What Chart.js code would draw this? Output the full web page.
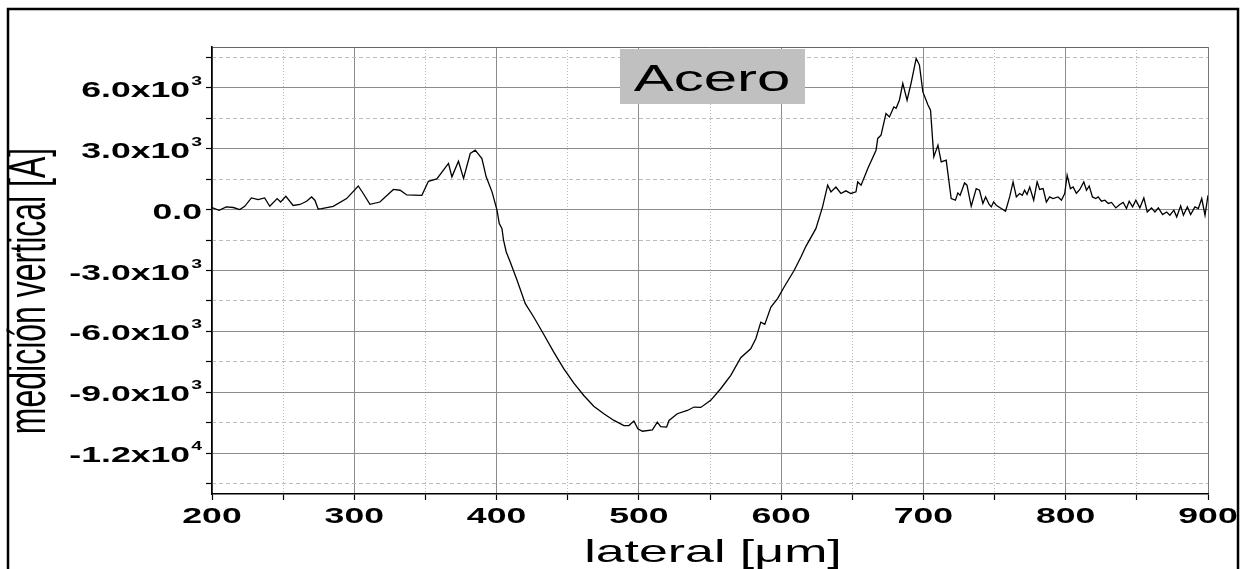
<!DOCTYPE html>
<html>
<head>
<meta charset="utf-8">
<title>Acero</title>
<script src="https://cdn.jsdelivr.net/npm/chart.js@4/dist/chart.umd.min.js"></script>
<style>
  html, body { margin: 0; padding: 0; background: #fff; }
  canvas { display: block; }
</style>
</head>
<body>
<canvas id="profileChart" width="1246" height="569"></canvas>
<script>
"use strict";

// profile: lateral position [um] and vertical value [A]
var lateral = [
  200, 205, 210, 215, 219.5, 223, 227.7, 232.4, 237, 240.6, 245.8, 248.2, 251.9, 257, 261.8, 266.5,
  270, 272.3, 274.6, 277, 285.2, 294.6, 302.8, 306.3, 311, 318, 327.5, 332.2, 336.9, 347.5, 352.1,
  358, 366.2, 368.6, 373.2, 376.8, 381.5, 385, 389.7, 392.7, 396.8,
  400.3, 401.9, 403.8, 404.9, 406.8, 409.6, 414.4, 420.2, 426.1, 433.1, 440.2, 447.2, 454.3,
  461.3, 468.3, 475.4, 482.5, 489.5, 493, 496.5, 499.3, 502.5, 509.5, 513, 515.3, 519.5, 521.2,
  527, 534.1, 538.8, 543.5, 550.5, 557.5, 564.6, 571.6, 578.6, 582.2, 585.7, 588.5, 592.8, 597.5,
  602.1, 609.2, 613.9, 617.4, 624.4, 629.1, 632.7, 635, 638.5, 642, 645.5, 649, 652.6, 653.8,
  656.2, 660.9, 666.7, 667.9, 670.2, 673.7, 676.1, 679.2, 680.8, 683.1, 685.5, 688.5, 691.3,
  694.9, 697.2, 699.6, 703.2, 705, 707.3, 710.2, 712.5, 716,
  719.5, 722.5, 724.2, 725.8, 728.9, 730.6, 733.6, 737.1, 739.4, 741.8, 743.7, 746.1, 747.7,
  749.3, 751.2, 754.7, 757.7, 760.6, 763, 765.3, 767.6, 769.5, 771.1, 772.8, 774.7, 777.5, 779.9,
  781.7, 784.1, 786.4, 788.7, 791.1, 794.6, 797, 799.3, 801, 803.3, 805.2, 807.5, 809.9, 812.7,
  814.6, 816.5, 818.8, 821.1, 822.8, 825.1, 827.5, 829.9, 832.2, 835.2, 838, 840.4, 842.7, 844.6,
  847, 849.3, 852.1, 854.9, 857.3, 860.3, 862.7, 865.1, 868.1, 870.9, 873.2, 876, 878, 880.8,
  882.7, 885.5, 887.8, 890.8, 893.2, 895.6, 897.9, 900
];
var vertical = [
  100, -35, 130, 100, 0, 160, 570, 490, 570, 160, 540, 370, 650, 200, 250, 410,
  620, 460, 30, 50, 160, 540, 1160, 790, 260, 370, 990, 950, 720, 700, 1390,
  1510, 2270, 1610, 2380, 1530, 2760, 2920, 2510, 1610, 870,
  -30, -690, -940, -1510, -2090, -2580, -3480, -4630, -5290, -6140, -7020, -7830, -8540,
  -9150, -9680, -10050, -10380, -10630, -10630, -10410, -10790, -10910, -10840, -10460, -10680, -10710, -10380,
  -10050, -9890, -9720, -9740, -9390, -8820, -8160, -7290, -6850, -6360, -5540, -5650, -4800, -4380,
  -3810, -2990, -2340, -1810, -940, 130, 1200, 870, 1110, 790, 920, 790, 870, 1360,
  1200, 2020, 2920, 3500, 3660, 4730, 4560, 5050, 4980, 5380, 6210, 5380, 6210,
  7440, 7110, 5790, 5140, 4890, 2590, 3170, 2350, 2430,
  540, 460, 820, 700, 1310, 1200, 160, 1030, 950, 300, 620, 260, 130,
  370, 210, 50, -80, 620, 1360, 620, 790, 700, 950, 740, 1110, 460, 1360,
  990, 1030, 370, 620, 540, 620, 460, 790, 1690, 1030, 1110, 800, 990, 1360,
  950, 1160, 620, 540, 620, 410, 460, 300, 350, 80, 250, 350, 50, 410,
  130, 460, 80, 570, -120, 80, -120, 80, -250, -120, -280, -30, -360, 180,
  -280, 130, -250, 130, 50, 540, -280, 700
];

var xTickValues = [200, 300, 400, 500, 600, 700, 800, 900];
var xTickLabels = ['200', '300', '400', '500', '600', '700', '800', '900'];
var yTickValues = [6000, 3000, 0, -3000, -6000, -9000, -12000];
var yTickLabels = ['6.0x10³', '3.0x10³', '0.0', '-3.0x10³', '-6.0x10³', '-9.0x10³', '-1.2x10⁴'];
var sampleName = 'Acero';
var xTitle = 'lateral [μm]';
var yTitle = 'medición vertical [A]';

var STRETCH = 1.62;
var FONT = '"Liberation Sans", Arial, sans-serif';
var CLEAR = 'rgba(0,0,0,0)';
var SUPERSCRIPTS = {'³': '3', '⁴': '4'};

var isMajor = function (v, step) {
  return Math.abs(v % step) < 1;
};

// bounds plus every multiple of step in between
var gridTicks = function (scale, step) {
  var ticks = [{value: scale.min}];
  var v = Math.ceil(scale.min / step) * step;
  if (v === scale.min) v += step;
  for (; v < scale.max; v += step) {
    ticks.push({value: v});
  }
  ticks.push({value: scale.max});
  scale.ticks = ticks;
};

var drawStretched = function (ctx, text, x, y) {
  ctx.save();
  ctx.translate(x, y);
  ctx.scale(STRETCH, 1);
  ctx.fillText(text, 0, 0);
  ctx.restore();
};

// right aligned label at (x, y), exponent drawn small and raised
var drawTickLabel = function (ctx, label, x, y) {
  var last = label.charAt(label.length - 1);
  var base = label;
  ctx.textAlign = 'right';
  ctx.textBaseline = 'alphabetic';
  if (SUPERSCRIPTS[last]) {
    base = label.slice(0, -1);
    ctx.font = 'bold 12px ' + FONT;
    drawStretched(ctx, SUPERSCRIPTS[last], x, y - 4);
    x -= ctx.measureText(SUPERSCRIPTS[last]).width * STRETCH + 1;
  }
  ctx.font = 'bold 22px ' + FONT;
  drawStretched(ctx, base, x, y + 8);
};

var textPlugin = {
  id: 'stretchedText',
  afterDraw: function (chart) {
    var ctx = chart.ctx;
    var xs = chart.scales.x;
    var ys = chart.scales.y;

    ctx.save();
    ctx.fillStyle = '#000';

    // tick labels
    yTickValues.forEach(function (v, i) {
      drawTickLabel(ctx, yTickLabels[i], 202, ys.getPixelForValue(v) + 1);
    });
    ctx.font = 'bold 22px ' + FONT;
    ctx.textAlign = 'center';
    ctx.textBaseline = 'middle';
    xTickValues.forEach(function (v, i) {
      drawStretched(ctx, xTickLabels[i], xs.getPixelForValue(v), 517);
    });

    // axis titles
    ctx.font = '32px ' + FONT;
    ctx.textBaseline = 'alphabetic';
    drawStretched(ctx, xTitle, 713, 562);

    ctx.save();
    ctx.translate(45, 291);
    ctx.rotate(-Math.PI / 2);
    ctx.scale(1, STRETCH);
    ctx.fillText(yTitle, 0, 0);
    ctx.restore();

    // sample label
    ctx.fillStyle = '#c0c0c0';
    ctx.fillRect(620, 49, 185, 55);
    ctx.fillStyle = '#000';
    ctx.font = '37px ' + FONT;
    drawStretched(ctx, sampleName, 712, 91);

    // outer frame
    ctx.strokeStyle = '#000';
    ctx.lineWidth = 2.5;
    ctx.beginPath();
    ctx.moveTo(8, 575);
    ctx.lineTo(8, 9);
    ctx.lineTo(1238, 9);
    ctx.lineTo(1238, 575);
    ctx.stroke();
    ctx.restore();
  }
};

var load_profile_chart = function () {
  var points = [];
  for (let i = 0; i < lateral.length; i++) {
    points.push({x: lateral[i], y: vertical[i]});
  }

  var config = {
    type: 'line',
    data: {
      datasets: [{
        label: sampleName,
        data: points,
        borderColor: '#000',
        borderWidth: 1.3,
        pointRadius: 0,
        fill: false,
        tension: 0
      }]
    },
    options: {
      responsive: false,
      animation: false,
      layout: {padding: {left: 0, top: 47, right: 38, bottom: 0}},
      plugins: {
        legend: {display: false},
        tooltip: {enabled: false}
      },
      scales: {
        x: {
          type: 'linear',
          position: 'bottom',
          min: 200,
          max: 900,
          ticks: {display: false},
          afterBuildTicks: function (scale) { gridTicks(scale, 50); },
          grid: {
            color: function (c) {
              var v = c.tick.value;
              if (v === 900) return '#777';
              return isMajor(v, 100) ? '#8c8c8c' : CLEAR;
            },
            lineWidth: 1,
            tickLength: 6,
            tickWidth: 1.2,
            tickColor: '#000'
          },
          border: {color: '#000', width: 1.6},
          afterFit: function (scale) { scale.height = 75; }
        },
        x2: {
          type: 'linear',
          position: 'bottom',
          min: 200,
          max: 900,
          ticks: {display: false},
          afterBuildTicks: function (scale) { gridTicks(scale, 50); },
          grid: {
            color: function (c) {
              return isMajor(c.tick.value, 100) ? CLEAR : '#b8b8b8';
            },
            lineWidth: 1,
            drawTicks: false
          },
          border: {display: false, dash: [1, 2]},
          afterFit: function (scale) { scale.height = 0; }
        },
        y: {
          type: 'linear',
          position: 'left',
          min: -14000,
          max: 8000,
          ticks: {display: false},
          afterBuildTicks: function (scale) { gridTicks(scale, 1500); },
          grid: {
            color: function (c) {
              var v = c.tick.value;
              if (v === 8000) return '#666';
              if (v === -14000) return CLEAR;
              return isMajor(v, 3000) ? '#8c8c8c' : CLEAR;
            },
            lineWidth: 1,
            tickLength: 6,
            tickWidth: 1.2,
            tickColor: function (c) {
              var v = c.tick.value;
              return (v === 8000 || v === -14000) ? CLEAR : '#000';
            }
          },
          border: {color: '#000', width: 1.6},
          afterFit: function (scale) { scale.width = 212; }
        },
        y2: {
          type: 'linear',
          position: 'left',
          min: -14000,
          max: 8000,
          ticks: {display: false},
          afterBuildTicks: function (scale) { gridTicks(scale, 1500); },
          grid: {
            color: function (c) {
              var v = c.tick.value;
              if (v === 8000 || v === -14000) return CLEAR;
              return isMajor(v, 3000) ? CLEAR : '#bdbdbd';
            },
            lineWidth: 1,
            drawTicks: false
          },
          border: {display: false, dash: [4, 3]},
          afterFit: function (scale) { scale.width = 0; }
        }
      }
    },
    plugins: [textPlugin]
  };

  return new Chart(document.getElementById('profileChart').getContext('2d'), config);
};

var profileChart = load_profile_chart();
</script>
</body>
</html>
